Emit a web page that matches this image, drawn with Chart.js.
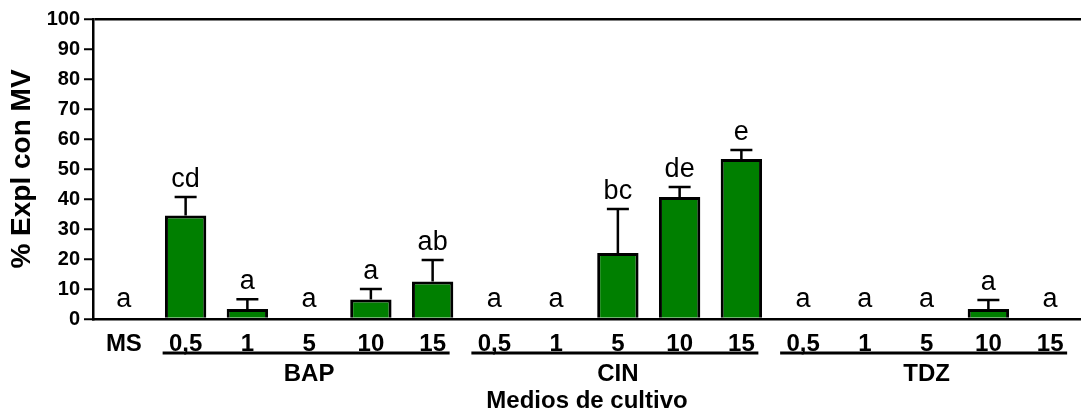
<!DOCTYPE html>
<html>
<head>
<meta charset="utf-8">
<script src="https://cdn.jsdelivr.net/npm/chart.js@4"></script>
<style>
body { margin: 0; background: #fff; }
canvas { display: block; }
</style>
</head>
<body>
<canvas id="chart" width="1081" height="411"></canvas>
<script>
// Data
const labels = ['MS', '0,5', '1', '5', '10', '15', '0,5', '1', '5', '10', '15', '0,5', '1', '5', '10', '15'];
const means = [0, 34.5, 3.3, 0, 6.5, 12.5, 0, 0, 22, 40.7, 53.3, 0, 0, 0, 3.3, 0];
const errors = [0, 6.2, 3.3, 0, 3.5, 7.2, 0, 0, 14.7, 3.3, 3, 0, 0, 0, 3, 0];
const letters = ['a', 'cd', 'a', 'a', 'a', 'ab', 'a', 'a', 'bc', 'de', 'e', 'a', 'a', 'a', 'a', 'a'];
const groupNames = ['BAP', 'CIN', 'TDZ'];
const groupStart = [1, 6, 11];
const groupEnd = [5, 10, 15];

const FONT = "'Liberation Sans', Arial, sans-serif";

// Error bars (upper only) and significance letters
const barExtras = {
    id: 'barExtras',
    afterDatasetsDraw(chart) {
        const ctx = chart.ctx;
        const y = chart.scales.y;
        const meta = chart.getDatasetMeta(0);
        ctx.save();
        ctx.strokeStyle = '#000';
        ctx.lineWidth = 2.5;
        meta.data.forEach((bar, i) => {
            const top = y.getPixelForValue(means[i]);
            const errTop = y.getPixelForValue(means[i] + errors[i]);
            if (errors[i] > 0) {
                ctx.beginPath();
                ctx.moveTo(bar.x, top);
                ctx.lineTo(bar.x, errTop);
                ctx.moveTo(bar.x - 11, errTop);
                ctx.lineTo(bar.x + 11, errTop);
                ctx.stroke();
            }
            ctx.fillStyle = '#000';
            ctx.font = '27px ' + FONT;
            ctx.textAlign = 'center';
            ctx.textBaseline = 'alphabetic';
            const gap = errors[i] > 0 ? 10 : 12;
            ctx.fillText(letters[i], bar.x, errTop - gap);
        });
        ctx.restore();
    }
};

// Treatment group brackets under the tick labels
const groupLabels = {
    id: 'groupLabels',
    afterDraw(chart) {
        const ctx = chart.ctx;
        const x = chart.scales.x;
        ctx.save();
        ctx.strokeStyle = '#000';
        ctx.lineWidth = 3;
        ctx.fillStyle = '#000';
        ctx.font = 'bold 24px ' + FONT;
        ctx.textAlign = 'center';
        ctx.textBaseline = 'middle';
        groupNames.forEach((name, g) => {
            const x1 = x.getPixelForValue(groupStart[g]) - 23;
            const x2 = x.getPixelForValue(groupEnd[g]) + 17;
            ctx.beginPath();
            ctx.moveTo(x1, 353);
            ctx.lineTo(x2, 353);
            ctx.stroke();
            const mid = (x.getPixelForValue(groupStart[g]) + x.getPixelForValue(groupEnd[g])) / 2;
            ctx.fillText(name, mid, 374);
        });
        ctx.restore();
    }
};

const chart = new Chart(document.getElementById('chart').getContext('2d'), {
    type: 'bar',
    data: {
        labels: labels,
        datasets: [{
            data: means,
            backgroundColor: '#007f00',
            borderColor: '#000',
            borderWidth: 3,
            borderSkipped: 'start',
            barPercentage: 0.67,
            categoryPercentage: 1
        }]
    },
    options: {
        responsive: false,
        animation: false,
        layout: { padding: { top: 19, right: 0, bottom: 0, left: 0 } },
        plugins: {
            legend: { display: false },
            tooltip: { enabled: false }
        },
        scales: {
            x: {
                offset: true,
                grid: { display: false },
                border: { display: true, color: '#000', width: 2.5 },
                ticks: {
                    color: '#000',
                    font: { family: FONT, size: 24, weight: 'bold' },
                    padding: 3,
                    maxRotation: 0,
                    autoSkip: false
                },
                title: {
                    display: true,
                    text: 'Medios de cultivo',
                    color: '#000',
                    font: { family: FONT, size: 24, weight: 'bold', lineHeight: 0.8 },
                    padding: { top: 0, bottom: 0 }
                },
                afterFit(scale) { scale.height = 92; }
            },
            y: {
                min: 0,
                max: 100,
                grid: {
                    color: (c) => (c.tick && c.tick.value === 100 ? '#000' : 'rgba(0,0,0,0)'),
                    lineWidth: 2.5,
                    tickColor: '#000',
                    tickLength: 9,
                    tickWidth: 2
                },
                border: { display: true, color: '#000', width: 2.5 },
                ticks: {
                    stepSize: 10,
                    color: '#000',
                    font: { family: FONT, size: 20, weight: 'bold' },
                    padding: 4
                },
                title: {
                    display: true,
                    text: '% Expl con MV',
                    color: '#000',
                    font: { family: FONT, size: 28, weight: 'bold', lineHeight: 1 },
                    padding: { top: 8, bottom: 0 }
                },
                afterFit(scale) { scale.width = 93; }
            }
        }
    },
    plugins: [barExtras, groupLabels]
});
</script>
</body>
</html>
